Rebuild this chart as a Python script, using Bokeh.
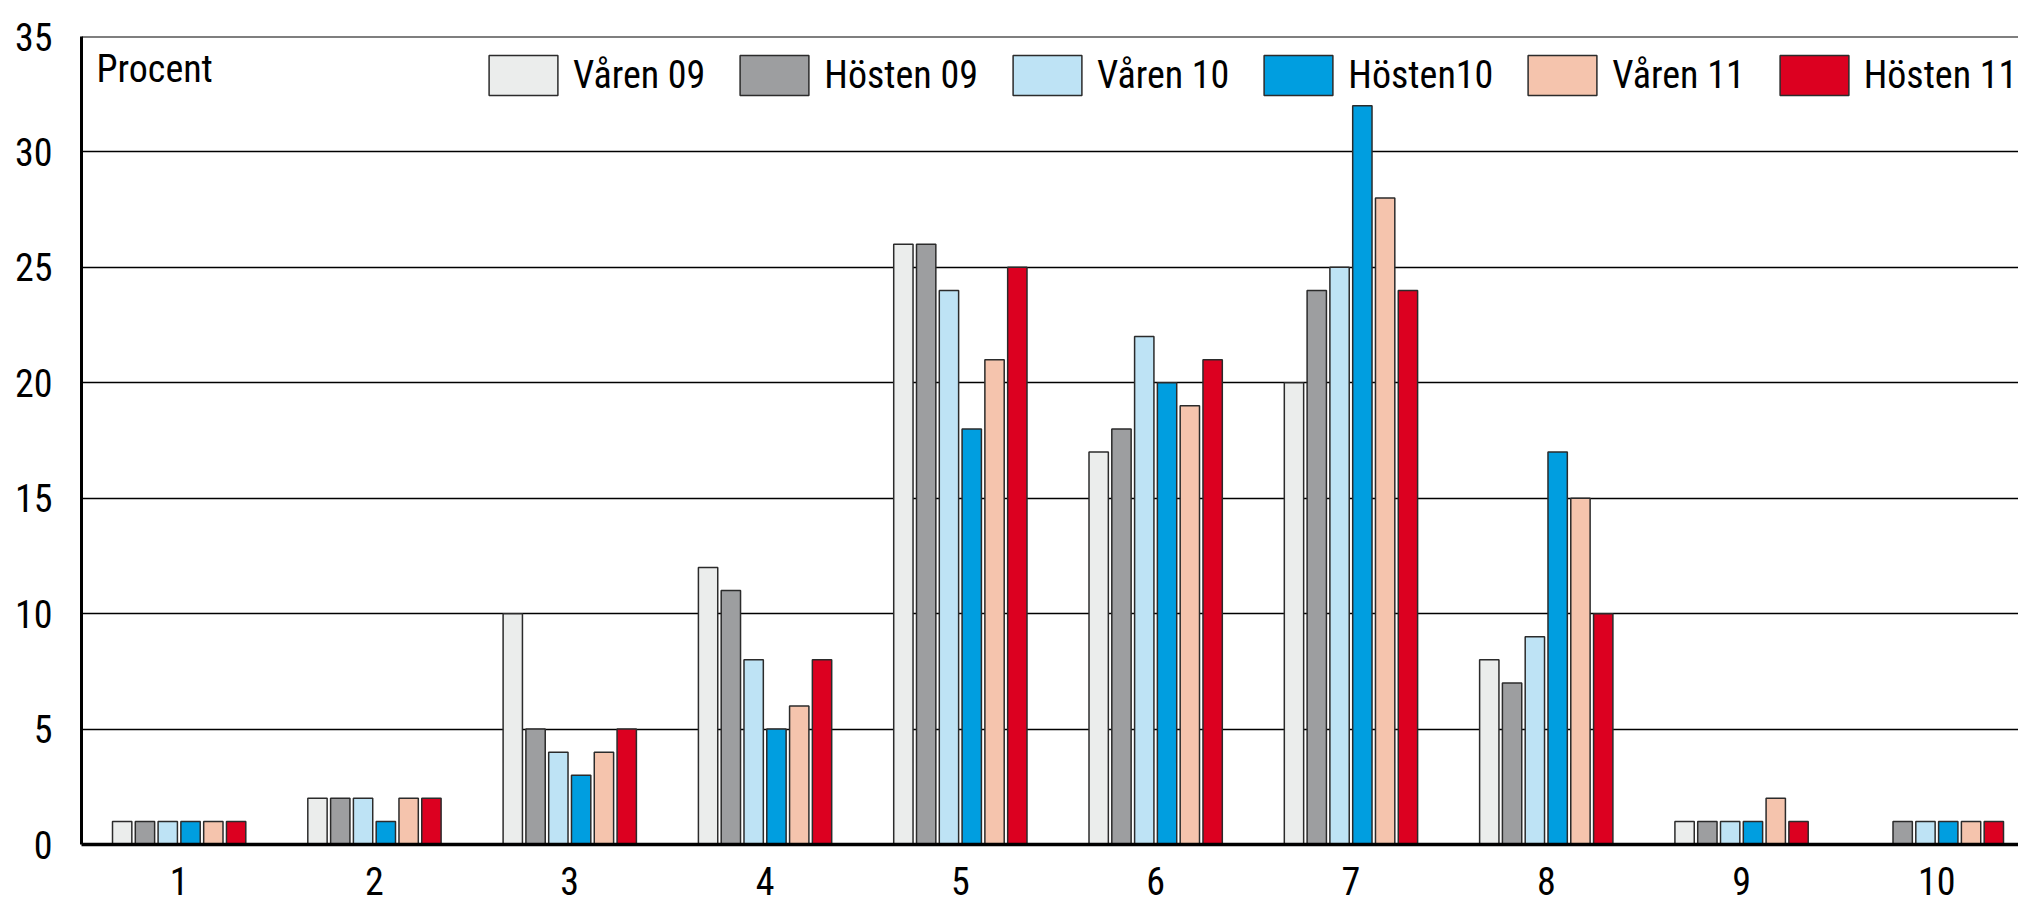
from bokeh.plotting import figure
from bokeh.models import ColumnDataSource, FixedTicker, Legend, LegendItem, Label, Range1d, Span
from bokeh.transform import dodge
from bokeh.embed import file_html
from bokeh.resources import INLINE

categories = ["1", "2", "3", "4", "5", "6", "7", "8", "9", "10"]
series_names = ["Våren 09", "Hösten 09", "Våren 10", "Hösten10", "Våren 11", "Hösten 11"]
varen09 = [1, 2, 10, 12, 26, 17, 20, 8, 1, 0]
hosten09 = [1, 2, 5, 11, 26, 18, 24, 7, 1, 1]
varen10 = [1, 2, 4, 8, 24, 22, 25, 9, 1, 1]
hosten10 = [1, 1, 3, 5, 18, 20, 32, 17, 1, 1]
varen11 = [1, 2, 4, 6, 21, 19, 28, 15, 2, 1]
hosten11 = [1, 2, 5, 8, 25, 21, 24, 10, 1, 1]
colors = ["#EBEDEC", "#9D9EA0", "#BEE3F5", "#009EE0", "#F5C4AD", "#DC0020"]
y_ticks = [0, 5, 10, 15, 20, 25, 30, 35]

FONT = "Roboto Condensed"
FS = "38px"

xs = list(range(1, len(categories) + 1))
keys = ["s0", "s1", "s2", "s3", "s4", "s5"]
data = dict(x=xs)
for k, vals in zip(keys, [varen09, hosten09, varen10, hosten10, varen11, hosten11]):
    data[k] = vals
source = ColumnDataSource(data)

p = figure(width=2018, height=907, output_backend="svg", toolbar_location=None,
           x_range=Range1d(0.5, 10.418), y_range=Range1d(0, 35),
           min_border_left=81, min_border_right=0, min_border_top=36, min_border_bottom=63)
p.outline_line_color = None

pitch = 0.1167
items = []
for i, (k, name, c) in enumerate(zip(keys, series_names, colors)):
    r = p.vbar(x=dodge("x", (i - 2.5) * pitch, range=p.x_range), top=k, width=0.099,
               source=source, fill_color=c, line_color="#2b2b2b", line_width=1.5)
    items.append(LegendItem(label=name, renderers=[r]))

p.xgrid.visible = False
p.ygrid.ticker = FixedTicker(ticks=y_ticks)
p.ygrid.grid_line_color = "black"
p.ygrid.grid_line_width = 1.3
p.add_layout(Span(location=35, dimension="width", line_color="black", line_width=2))

p.xaxis.ticker = FixedTicker(ticks=xs)
p.xaxis.major_label_overrides = {x: c for x, c in zip(xs, categories)}
p.yaxis.ticker = FixedTicker(ticks=y_ticks)
for ax in (p.xaxis[0], p.yaxis[0]):
    ax.major_tick_out = 0
    ax.major_tick_in = 0
    ax.minor_tick_out = 0
    ax.minor_tick_in = 0
    ax.axis_line_color = "black"
    ax.major_label_text_font = FONT
    ax.major_label_text_font_size = FS
    ax.major_label_text_color = "black"
p.xaxis.axis_line_width = 3.5
p.yaxis.axis_line_width = 3
p.xaxis.major_label_standoff = 22
p.yaxis.major_label_standoff = 29

legend = Legend(items=items, orientation="horizontal", location=(399, 744),
                glyph_width=86, glyph_height=50, label_height=50, label_standoff=7,
                spacing=26, padding=0, margin=0,
                label_text_font=FONT, label_text_font_size=FS, label_text_color="black",
                border_line_color=None, background_fill_alpha=0)
p.add_layout(legend, "center")

p.add_layout(Label(x=15, y=798, x_units="screen", y_units="screen", text="Procent",
                   text_font=FONT, text_font_size=FS, text_baseline="top",
                   text_color="black"))

open("out.html", "w").write(file_html(p, INLINE))
